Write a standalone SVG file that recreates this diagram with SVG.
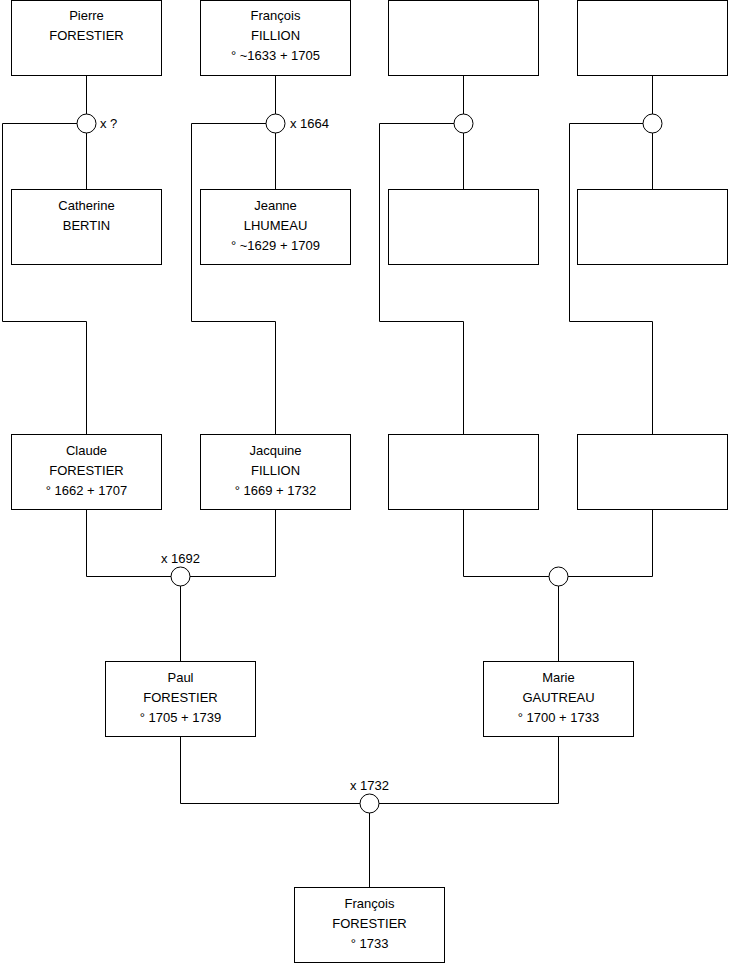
<svg xmlns="http://www.w3.org/2000/svg" width="740" height="975" viewBox="0 0 740 975">
<style>
.box{fill:#fff;stroke:#000;stroke-width:1}
.u{fill:#fff;stroke:#000;stroke-width:1}
.c{fill:none;stroke:#000;stroke-width:1}
text{font-family:"Liberation Sans",Arial,sans-serif;font-size:13px;fill:#000}
.m{text-anchor:middle}
</style>
<rect width="740" height="975" fill="#fff"/>
<g id="connectors">
<path class="c" d="M86.5 75.5V189.5M86.5 123.5H2.5V321.5H86.5V434.5"/>
<path class="c" d="M275.5 75.5V189.5M275.5 123.5H191.5V321.5H275.5V434.5"/>
<path class="c" d="M463.5 75.5V189.5M463.5 123.5H379.5V321.5H463.5V434.5"/>
<path class="c" d="M652.5 75.5V189.5M652.5 123.5H569.5V321.5H652.5V434.5"/>
<path class="c" d="M86.5 509.5V576.5H275.5V509.5M180.5 576.5V661.5"/>
<path class="c" d="M463.5 509.5V576.5H652.5V509.5M558.5 576.5V661.5"/>
<path class="c" d="M180.5 736.5V803.5H558.5V736.5M369.5 803.5V887.5"/>
</g>
<g id="u1"><circle class="u" cx="86.5" cy="123.5" r="9.5"/><text x="100" y="128">x ?</text></g>
<g id="u2"><circle class="u" cx="275.5" cy="123.5" r="9.5"/><text x="290" y="128">x 1664</text></g>
<g id="u3"><circle class="u" cx="463.5" cy="123.5" r="9.5"/></g>
<g id="u4"><circle class="u" cx="652.5" cy="123.5" r="9.5"/></g>
<g id="u5"><circle class="u" cx="180.5" cy="576.5" r="9.5"/><text class="m" x="180.5" y="563">x 1692</text></g>
<g id="u6"><circle class="u" cx="558.5" cy="576.5" r="9.5"/></g>
<g id="u7"><circle class="u" cx="369.5" cy="803.5" r="9.5"/><text class="m" x="369.5" y="790">x 1732</text></g>
<g id="pierre"><rect class="box" x="11.5" y="0.5" width="150" height="75"/><text class="m" x="86.5" y="20">Pierre</text><text class="m" x="86.5" y="40">FORESTIER</text></g>
<g id="francois-fillion"><rect class="box" x="200.5" y="0.5" width="150" height="75"/><text class="m" x="275.5" y="20">François</text><text class="m" x="275.5" y="40">FILLION</text><text class="m" x="275.5" y="60">° ~1633 + 1705</text></g>
<g id="p3"><rect class="box" x="388.5" y="0.5" width="150" height="75"/></g>
<g id="p4"><rect class="box" x="577.5" y="0.5" width="150" height="75"/></g>
<g id="catherine"><rect class="box" x="11.5" y="189.5" width="150" height="75"/><text class="m" x="86.5" y="210">Catherine</text><text class="m" x="86.5" y="230">BERTIN</text></g>
<g id="jeanne"><rect class="box" x="200.5" y="189.5" width="150" height="75"/><text class="m" x="275.5" y="210">Jeanne</text><text class="m" x="275.5" y="230">LHUMEAU</text><text class="m" x="275.5" y="250">° ~1629 + 1709</text></g>
<g id="p7"><rect class="box" x="388.5" y="189.5" width="150" height="75"/></g>
<g id="p8"><rect class="box" x="577.5" y="189.5" width="150" height="75"/></g>
<g id="claude"><rect class="box" x="11.5" y="434.5" width="150" height="75"/><text class="m" x="86.5" y="455">Claude</text><text class="m" x="86.5" y="475">FORESTIER</text><text class="m" x="86.5" y="495">° 1662 + 1707</text></g>
<g id="jacquine"><rect class="box" x="200.5" y="434.5" width="150" height="75"/><text class="m" x="275.5" y="455">Jacquine</text><text class="m" x="275.5" y="475">FILLION</text><text class="m" x="275.5" y="495">° 1669 + 1732</text></g>
<g id="p11"><rect class="box" x="388.5" y="434.5" width="150" height="75"/></g>
<g id="p12"><rect class="box" x="577.5" y="434.5" width="150" height="75"/></g>
<g id="paul"><rect class="box" x="105.5" y="661.5" width="150" height="75"/><text class="m" x="180.5" y="682">Paul</text><text class="m" x="180.5" y="702">FORESTIER</text><text class="m" x="180.5" y="722">° 1705 + 1739</text></g>
<g id="marie"><rect class="box" x="483.5" y="661.5" width="150" height="75"/><text class="m" x="558.5" y="682">Marie</text><text class="m" x="558.5" y="702">GAUTREAU</text><text class="m" x="558.5" y="722">° 1700 + 1733</text></g>
<g id="francois-forestier"><rect class="box" x="294.5" y="887.5" width="150" height="75"/><text class="m" x="369.5" y="908">François</text><text class="m" x="369.5" y="928">FORESTIER</text><text class="m" x="369.5" y="948">° 1733</text></g>
</svg>
